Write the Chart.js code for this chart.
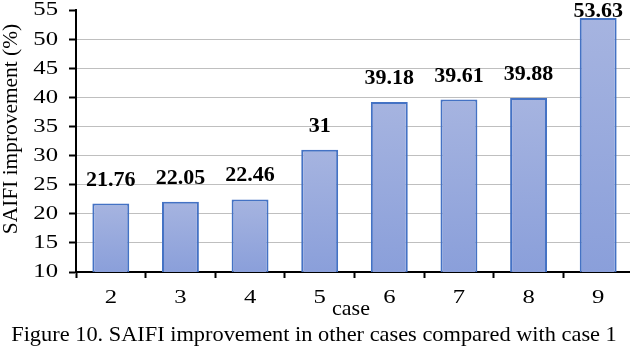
<!DOCTYPE html>
<html>
<head>
<meta charset="utf-8">
<script src="https://cdn.jsdelivr.net/npm/chart.js@4.4.0/dist/chart.umd.min.js"></script>
<style>
  html, body { margin: 0; padding: 0; background: #fff; overflow: hidden; }
</style>
</head>
<body>
<canvas id="saifiChart" width="633" height="348"></canvas>
<script>
// Chart data
const cases = ['2', '3', '4', '5', '6', '7', '8', '9'];
const improvement = [21.76, 22.05, 22.46, 31, 39.18, 39.61, 39.88, 53.63];
const yTicks = [10, 15, 20, 25, 30, 35, 40, 45, 50, 55];

const xTitle = 'case';
const yTitle = 'SAIFI improvement (%)';
const caption = 'Figure 10. SAIFI improvement in other cases compared with case 1';

const serif = "'Liberation Serif', 'Times New Roman', serif";

// Text with a horizontal stretch, the source figure renders Times a bit wide
function stretchedText(ctx, text, x, y, font, sx, align, rotate) {
  ctx.save();
  ctx.translate(x, y);
  if (rotate) ctx.rotate(rotate);
  ctx.scale(sx, 1);
  ctx.font = font;
  ctx.fillStyle = '#000';
  ctx.textAlign = align;
  ctx.textBaseline = 'middle';
  ctx.fillText(text, 0, 0);
  ctx.restore();
}

// Tick labels, axis titles and caption
const axisText = {
  id: 'axisText',
  afterDraw(chart) {
    const ctx = chart.ctx;
    const xs = chart.scales.x;
    const ys = chart.scales.y;

    yTicks.forEach(v => {
      stretchedText(ctx, String(v), 58, ys.getPixelForValue(v) + 0.5, '19px ' + serif, 1.3, 'right');
    });
    cases.forEach((c, i) => {
      stretchedText(ctx, c, xs.getPixelForValue(i), 298.5, '19px ' + serif, 1.3, 'center');
    });

    stretchedText(ctx, xTitle, 351, 309, '22px ' + serif, 1, 'center');
    stretchedText(ctx, yTitle, 12, 129, '20px ' + serif, 1.07, 'center', -Math.PI / 2);
    stretchedText(ctx, caption, 314, 335, '21px ' + serif, 1.065, 'center');
  }
};

// Value labels above each bar
const valueLabels = {
  id: 'valueLabels',
  afterDatasetsDraw(chart) {
    const ctx = chart.ctx;
    const meta = chart.getDatasetMeta(0);
    ctx.save();
    ctx.font = 'bold 22px ' + serif;
    ctx.fillStyle = '#000';
    ctx.textAlign = 'center';
    ctx.textBaseline = 'alphabetic';
    meta.data.forEach((bar, i) => {
      const y = Math.max(bar.y - 18, 17);
      ctx.fillText(String(improvement[i]), bar.x, y);
    });
    ctx.restore();
  }
};

// Vertical gradient per bar, lighter at the top
function barGradient(context) {
  const chart = context.chart;
  const y = chart.scales.y;
  if (!chart.chartArea || !y || context.type !== 'data') return '#98abdd';
  const top = y.getPixelForValue(context.raw);
  const bottom = y.getPixelForValue(y.min);
  const g = chart.ctx.createLinearGradient(0, top, 0, bottom);
  g.addColorStop(0, '#a6b4e0');
  g.addColorStop(1, '#8a9fda');
  return g;
}

const config = {
  type: 'bar',
  data: {
    labels: cases,
    datasets: [{
      data: improvement,
      backgroundColor: barGradient,
      borderColor: '#4472c4',
      borderWidth: 2,
      borderSkipped: 'bottom',
      barPercentage: 0.53,
      categoryPercentage: 1
    }]
  },
  options: {
    responsive: false,
    animation: false,
    layout: {
      padding: { top: 10, right: 0, bottom: 0, left: 0 }
    },
    plugins: {
      legend: { display: false },
      tooltip: { enabled: false },
      title: { display: false }
    },
    scales: {
      x: {
        offset: true,
        grid: {
          offset: true,
          drawOnChartArea: false,
          tickColor: '#000',
          tickLength: 6,
          tickWidth: 2
        },
        border: { color: '#000', width: 2 },
        ticks: { display: false },
        afterFit(scale) {
          scale.height = 76;
        }
      },
      y: {
        min: 10,
        max: 55,
        afterBuildTicks(scale) {
          scale.ticks = yTicks.map(v => ({ value: v }));
        },
        grid: {
          color: (ctx) => (ctx.tick && (ctx.tick.value === 55 || ctx.tick.value === 10)) ? 'rgba(0,0,0,0)' : '#bfbfbf',
          lineWidth: 1,
          tickColor: '#000',
          tickLength: 7,
          tickWidth: 2
        },
        border: { color: '#000', width: 2 },
        ticks: { display: false },
        afterFit(scale) {
          scale.width = 76;
        }
      }
    }
  },
  plugins: [valueLabels, axisText]
};

new Chart(document.getElementById('saifiChart'), config);
</script>
</body>
</html>
